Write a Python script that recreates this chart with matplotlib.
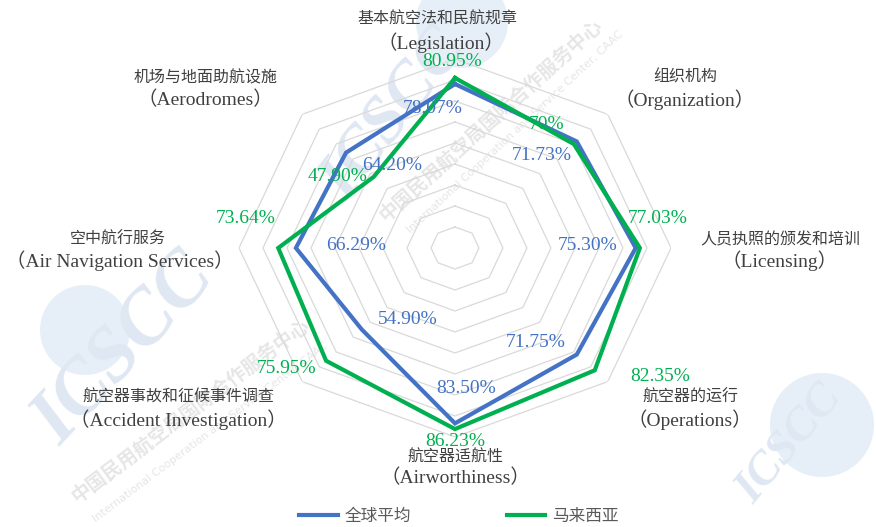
import numpy as np
import matplotlib
matplotlib.use('Agg')
import matplotlib.pyplot as plt
from matplotlib.patches import Ellipse

# categories, clockwise from the top
cat_cn = ['基本航空法和民航规章', '组织机构', '人员执照的颁发和培训', '航空器的运行',
          '航空器适航性', '航空器事故和征候事件调查', '空中航行服务', '机场与地面助航设施']
cat_en = ['Legislation', 'Organization', 'Licensing', 'Operations',
          'Airworthiness', 'Accident Investigation', 'Air Navigation Services', 'Aerodromes']

global_avg = [78.07, 71.73, 75.30, 71.75, 83.50, 54.90, 66.29, 64.20]
malaysia = [80.95, 70.00, 77.03, 82.35, 86.23, 75.95, 73.64, 47.90]
global_lbl = ['78.07%', '71.73%', '75.30%', '71.75%', '83.50%', '54.90%', '66.29%', '64.20%']
malaysia_lbl = ['80.95%', '70%', '77.03%', '82.35%', '86.23%', '75.95%', '73.64%', '47.90%']
ring_levels = [10, 20, 30, 40, 50, 60, 70, 80, 90]

BLUE = '#4472C4'
GREEN = '#00B050'
W, H = 876, 527

def px(x, y):
    return x / W, 1 - y / H

plt.rcParams['font.family'] = ['Liberation Serif', 'Noto Sans CJK SC', 'DejaVu Sans']

fig = plt.figure(figsize=(W / 100, H / 100), dpi=100)

# watermark (faint, behind everything)
wm_blue = '#dfe7f2'
wm_gray = '#e6e6e6'
for (cx, cy, r) in [(462, 22, 46), (822, 425, 52), (85, 330, 45)]:
    fig.patches.append(Ellipse(px(cx, cy), 2 * r / W, 2 * r / H, transform=fig.transFigure,
                               facecolor='#e6eff7', edgecolor='none', zorder=-2))
for (x, y, rot, fs) in [(395, 115, 52, 48), (125, 350, 47, 56), (790, 445, 50, 34)]:
    fig.text(*px(x, y), 'ICSCC', fontsize=fs, fontweight='bold', style='italic',
             color=wm_blue, rotation=rot, ha='center', va='center', zorder=-1,
             family=['Liberation Serif'])
for (x, y, rot) in [(490, 120, 42), (190, 410, 37)]:
    fig.text(*px(x, y), '中国民用航空局国际合作服务中心', fontsize=14, fontweight='bold',
             color=wm_gray, rotation=rot, ha='center', va='center', zorder=-1,
             family=['Noto Sans CJK SC'])
for (x, y, rot) in [(515, 132, 43), (210, 432, 37)]:
    fig.text(*px(x, y), 'International Cooperation and Service Center, CAAC', fontsize=8,
             color=wm_gray, rotation=rot, ha='center', va='center', zorder=-1,
             family=['DejaVu Sans'])

ax = fig.add_axes([0.2728, 0.1708, 0.4932, 0.7173], projection='polar')
ax.set_zorder(1)
ax.set_aspect('auto')
ax.patch.set_alpha(0)
ax.set_theta_zero_location('N')
ax.set_theta_direction(-1)
ax.set_ylim(0, 90)
ax.grid(False)
ax.spines['polar'].set_visible(False)
ax.set_xticks([])
ax.set_yticks([])

n = len(cat_en)
theta = np.linspace(0, 2 * np.pi, n, endpoint=False)
theta_c = np.append(theta, theta[0])

for lv in ring_levels:
    ax.plot(theta_c, [lv] * (n + 1), color='#d9d9d9', lw=0.9, zorder=1)

ax.plot(theta_c, global_avg + global_avg[:1], color=BLUE, lw=3, zorder=3, solid_joinstyle='miter')
ax.plot(theta_c, malaysia + malaysia[:1], color=GREEN, lw=3, zorder=4, solid_joinstyle='miter')

# data label offsets in pixels (dx right, dy down)
blue_off = [(-22, 24), (-35, 14), (-48, -2), (-41, -12), (11, -35), (46, -10), (60, -2), (46, 13)]
green_off = [(-3, -16), (-27, -20), (18, -29), (65, 6), (0, 12), (-40, 8), (-33, -29), (-36, 0)]

for t, v, s, (dx, dy) in zip(theta, global_avg, global_lbl, blue_off):
    ax.annotate(s, (t, v), xytext=(dx, -dy), textcoords='offset pixels', color=BLUE,
                fontsize=14, ha='center', va='center', zorder=5, annotation_clip=False)
for t, v, s, (dx, dy) in zip(theta, malaysia, malaysia_lbl, green_off):
    ax.annotate(s, (t, v), xytext=(dx, -dy), textcoords='offset pixels', color=GREEN,
                fontsize=14, ha='center', va='center', zorder=5, annotation_clip=False)

# category labels (pixel centers of the Chinese and English lines)
cn_pos = [(437, 20), (685, 78), (780, 240), (690, 398), (455, 458), (178, 398), (118, 240), (206, 78)]
en_pos = [(441, 43), (685, 100), (780, 261), (690, 420), (455, 478), (178, 420), (120, 261), (205, 100)]
for cn, en, p1, p2 in zip(cat_cn, cat_en, cn_pos, en_pos):
    fig.text(*px(*p1), cn, fontsize=11.5, color='#404040', ha='center', va='center', zorder=2)
    fig.text(*px(*p2), '（' + en + '）', fontsize=14, color='#404040', ha='center', va='center',
             zorder=2)

handles = [plt.Line2D([], [], color=BLUE, lw=3), plt.Line2D([], [], color=GREEN, lw=3)]
fig.legend(handles, ['全球平均', '马来西亚'], loc='center', bbox_to_anchor=px(459, 516), ncol=2,
           frameon=False, columnspacing=5.7, handlelength=2.3, handletextpad=0.45,
           prop={'family': ['Noto Sans CJK SC'], 'size': 12}, labelcolor='#595959')

fig.savefig('out.png', dpi=100)
